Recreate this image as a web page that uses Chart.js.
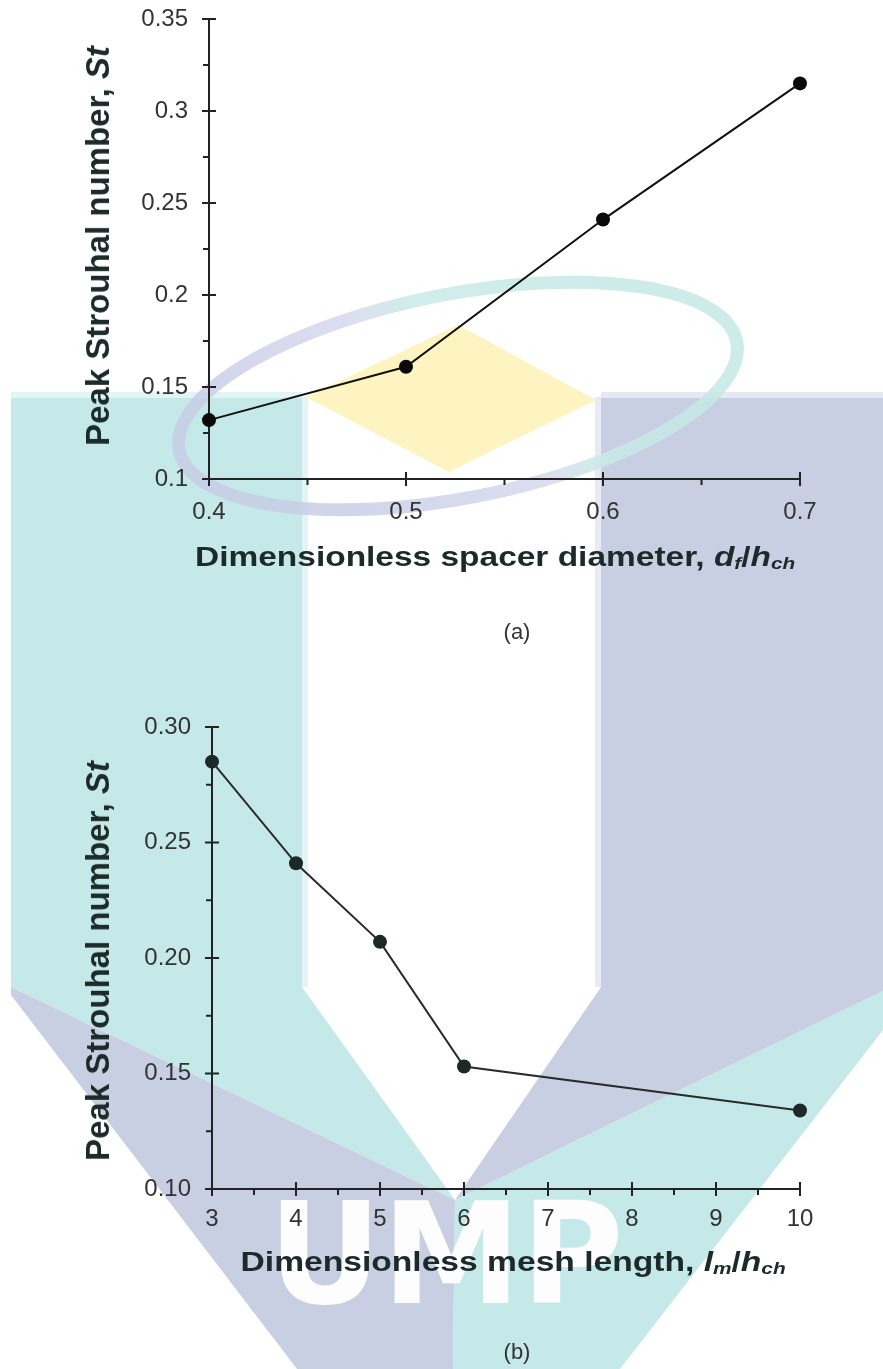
<!DOCTYPE html>
<html lang="en">
<head>
<meta charset="UTF-8">
<title>Peak Strouhal number</title>
<script src="https://cdn.jsdelivr.net/npm/chart.js"></script>
<style>
  html, body { margin: 0; padding: 0; background: #fff; }
  body { width: 883px; height: 1369px; position: relative; overflow: hidden;
         font-family: "Liberation Sans", Arial, sans-serif; }
  #wm { position: absolute; left: 0; top: 0; z-index: 0; }
  canvas { position: absolute; left: 0; z-index: 1; }
  #chartA { top: 0; }
  #chartB { top: 640px; }
  .ytitle, .xtitle, .cap { position: absolute; z-index: 2; white-space: nowrap; }
  .ytitle { font-weight: bold; font-size: 33px; color: #1c2a2a;
            transform: translate(-50%, -50%) rotate(-90deg); }
  .xtitle { font-weight: bold; font-size: 28px; color: #1c2a2a; transform-origin: 50% 50%; }
  .xtitle i { font-style: italic; }
  .xtitle sub { font-size: 0.62em; vertical-align: -0.2em; }
  .cap { font-size: 22px; color: #333; transform: translate(-50%, -50%); }
</style>
</head>
<body>
<!-- background logo watermark -->
<svg id="wm" width="883" height="1369">
  <defs>
    <linearGradient id="ringGrad" gradientUnits="userSpaceOnUse" x1="330" y1="500" x2="600" y2="280">
      <stop offset="0" stop-color="#c8cde6"/>
      <stop offset="0.45" stop-color="#d6d9ee"/>
      <stop offset="0.6" stop-color="#c8eae8"/>
      <stop offset="1" stop-color="#c4e8e6"/>
    </linearGradient>
  </defs>
  <polygon points="458,325 596,400 449,472 306,397" fill="#fdf4c1"/>
  <polygon points="11,397 302,397 302,987 455,1200 11,987" fill="#c4e9e8"/>
  <polygon points="601,397 883,397 883,991 455,1200 601,987" fill="#c9cfe3"/>
  <polygon points="11,987 455,1200 453,1369 297,1369 11,995" fill="#c9cfe3"/>
  <polygon points="883,991 455,1200 453,1369 620,1369 883,1030" fill="#c4e9e8"/>
  <rect x="11" y="392" width="291" height="6" fill="#e2f4f3"/>
  <rect x="601" y="392" width="282" height="6" fill="#e6e9f3"/>
  <rect x="302" y="397" width="6" height="590" fill="#e2f4f3"/>
  <rect x="595" y="397" width="6" height="590" fill="#e9ebf4"/>
  <ellipse cx="458" cy="396" rx="284" ry="102" transform="rotate(-11 458 396)"
           fill="none" stroke="url(#ringGrad)" stroke-width="13" opacity="0.85"/>
  <text x="268" y="1303" font-family="DejaVu Sans" font-weight="bold" font-size="140" fill="#fdfdfd">UMP</text>
</svg>

<canvas id="chartA" width="883" height="600"></canvas>
<canvas id="chartB" width="883" height="729"></canvas>

<div class="ytitle" style="left:98px; top:246px;">Peak Strouhal number, <i>St</i></div>
<div class="ytitle" style="left:98px; top:961px;">Peak Strouhal number, <i>St</i></div>
<div class="xtitle" id="xtA" data-cx="495" data-base="567" data-w="600">Dimensionless spacer diameter, <i>d<sub>f</sub></i>/<i>h<sub>ch</sub></i></div>
<div class="xtitle" id="xtB" data-cx="513" data-base="1272" data-w="545">Dimensionless mesh length, <i>l<sub>m</sub></i>/<i>h<sub>ch</sub></i></div>
<div class="cap" style="left:517px; top:632px;">(a)</div>
<div class="cap" style="left:517px; top:1352px;">(b)</div>

<script>
// (a) spacer diameter
const spacerDiameter = [0.4, 0.5, 0.6, 0.7];
const strouhalA = [0.132, 0.161, 0.241, 0.315];
const xLabelsA = ['0.4', '0.5', '0.6', '0.7'];
const yLabelsA = ['0.1', '0.15', '0.2', '0.25', '0.3', '0.35'];
const xMinorA = [0.45, 0.55, 0.65];
const yMinorA = [0.125, 0.175, 0.225, 0.275, 0.325];

// (b) mesh length
const meshLength = [3, 4, 5, 6, 10];
const strouhalB = [0.285, 0.241, 0.207, 0.153, 0.134];
const xLabelsB = ['3', '4', '5', '6', '7', '8', '9', '10'];
const yLabelsB = ['0.10', '0.15', '0.20', '0.25', '0.30'];
const xMinorB = [3.5, 4.5, 5.5, 6.5, 7.5, 8.5, 9.5];
const yMinorB = [0.125, 0.175, 0.225, 0.275];

// axis lines, crossing major ticks and outward minor ticks
const axisTicks = {
  id: 'axisTicks',
  beforeDatasetsDraw(chart, args, opts) {
    const ctx = chart.ctx;
    const a = chart.chartArea;
    const x = chart.scales.x, y = chart.scales.y;
    ctx.save();
    ctx.strokeStyle = opts.color;
    ctx.lineWidth = 2;
    ctx.beginPath();
    ctx.moveTo(a.left, a.top);
    ctx.lineTo(a.left, a.bottom);
    ctx.lineTo(a.right, a.bottom);
    x.ticks.forEach(t => {
      const px = x.getPixelForValue(t.value);
      ctx.moveTo(px, a.bottom - 7); ctx.lineTo(px, a.bottom + 7);
    });
    y.ticks.forEach(t => {
      const py = y.getPixelForValue(t.value);
      ctx.moveTo(a.left - 7, py); ctx.lineTo(a.left + 7, py);
    });
    opts.xMinor.forEach(v => {
      const px = x.getPixelForValue(v);
      ctx.moveTo(px, a.bottom); ctx.lineTo(px, a.bottom + 6);
    });
    opts.yMinor.forEach(v => {
      const py = y.getPixelForValue(v);
      ctx.moveTo(a.left - 6, py); ctx.lineTo(a.left, py);
    });
    ctx.stroke();
    ctx.restore();
  }
};

function makeChart(id, xs, ys, xLabels, yLabels, xMinor, yMinor, box, colors) {
  const xVals = xLabels.map(Number);
  const yVals = yLabels.map(Number);
  const tickFont = { family: '"Liberation Sans", Arial, sans-serif', size: 24 };
  // invisible tick marks only reserve the gap between axis and labels
  const spacer = len => ({ display: true, drawOnChartArea: false, drawTicks: true,
                           tickLength: len, color: 'rgba(0,0,0,0)' });
  return new Chart(document.getElementById(id), {
    type: 'line',
    data: {
      datasets: [{
        data: xs.map((v, i) => ({ x: v, y: ys[i] })),
        borderColor: colors.line,
        borderWidth: 2,
        pointRadius: 7,
        pointHoverRadius: 7,
        pointBackgroundColor: colors.point,
        pointBorderColor: colors.point,
        pointBorderWidth: 0,
        tension: 0,
        clip: false
      }]
    },
    options: {
      responsive: false,
      animation: false,
      devicePixelRatio: 1,
      layout: { padding: { left: 0, top: box.top, right: box.right, bottom: 0 } },
      plugins: {
        legend: { display: false },
        tooltip: { enabled: false },
        axisTicks: { color: '#222', xMinor: xMinor, yMinor: yMinor }
      },
      scales: {
        x: {
          type: 'linear',
          min: xVals[0],
          max: xVals[xVals.length - 1],
          afterBuildTicks: s => { s.ticks = xVals.map(v => ({ value: v })); },
          afterFit: s => { s.height = box.xHeight; },
          grid: spacer(box.xGap),
          border: { display: false },
          ticks: {
            font: tickFont, color: '#333', padding: 0, maxRotation: 0,
            callback: (v, i) => xLabels[i]
          }
        },
        y: {
          type: 'linear',
          min: yVals[0],
          max: yVals[yVals.length - 1],
          afterBuildTicks: s => { s.ticks = yVals.map(v => ({ value: v })); },
          afterFit: s => { s.width = box.yWidth; },
          grid: spacer(21),
          border: { display: false },
          ticks: {
            font: tickFont, color: '#333', padding: 0,
            callback: (v, i) => yLabels[i]
          }
        }
      }
    },
    plugins: [axisTicks]
  });
}

makeChart('chartA', spacerDiameter, strouhalA, xLabelsA, yLabelsA, xMinorA, yMinorA,
  { top: 19, right: 83, xHeight: 121, yWidth: 209, xGap: 19 }, { line: '#111', point: '#0a0a0a' });
makeChart('chartB', meshLength, strouhalB, xLabelsB, yLabelsB, xMinorB, yMinorB,
  { top: 87, right: 83, xHeight: 180, yWidth: 212, xGap: 16 }, { line: '#2a2a2a', point: '#1d2828' });

// stretch the x titles to the width they take in the figure
document.querySelectorAll('.xtitle').forEach(el => {
  const w = el.offsetWidth, h = el.offsetHeight;
  const sx = Number(el.dataset.w) / w;
  el.style.left = (Number(el.dataset.cx) - w / 2) + 'px';
  el.style.top = (Number(el.dataset.base) - h * 0.78) + 'px';
  el.style.transform = 'scaleX(' + sx.toFixed(3) + ')';
});
</script>
</body>
</html>
